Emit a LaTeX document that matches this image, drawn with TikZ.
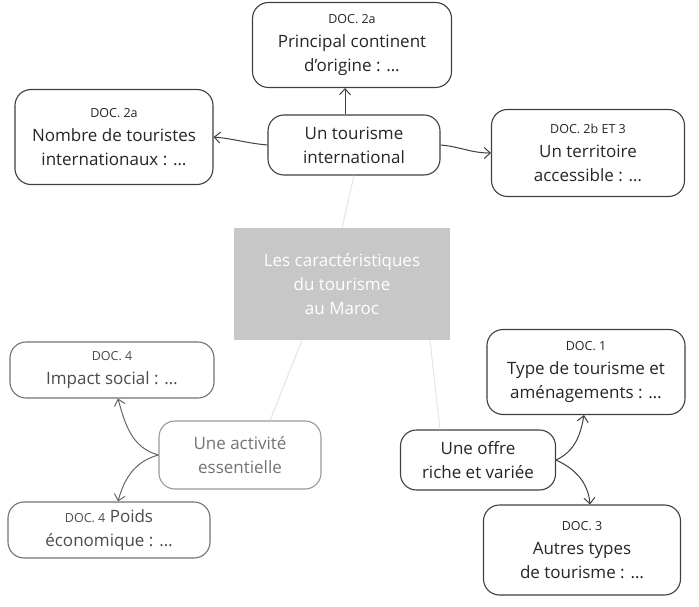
\documentclass[tikz,border=0pt]{standalone}
\usepackage{fontspec}
\setmainfont{Open Sans}
\usetikzlibrary{arrows.meta}
\newcommand{\dctag}[1]{{\fontsize{12.5}{15}\selectfont #1}}
\begin{document}
\begin{tikzpicture}[x=1pt,y=-1pt,
  box/.style={draw=black!75, line width=1.1pt, rounded corners=16pt, align=center,
    font=\fontsize{17}{24}\selectfont, inner sep=2pt, text=black!85},
  softbox/.style={box, draw=black!55, text=black!70},
  arr/.style={draw=black!75, line width=1pt, -{Straight Barb[length=6pt,width=11pt]}},
  faint/.style={draw=black!10, line width=1pt}]
\useasboundingbox (0,0) rectangle (699,607);
\fill[white] (0,0) rectangle (699,607);

\node[box, minimum width=199pt, minimum height=85pt] (top) at (352,45)
  {\dctag{DOC.~2a}\\Principal continent\\d’origine : …};
\node[box, minimum width=198pt, minimum height=95pt] (left) at (114,137)
  {\dctag{DOC.~2a}\\Nombre de touristes\\internationaux : …};
\node[box, minimum width=172pt, minimum height=60pt] (intl) at (354,145)
  {Un tourisme\\international};
\node[box, minimum width=193pt, minimum height=87pt] (right) at (588,153)
  {\dctag{DOC.~2b ET~3}\\Un territoire\\accessible : …};

\node[fill=black!22, minimum width=216pt, minimum height=112pt, text=white,
  align=center, font=\fontsize{17}{24}\selectfont] (grey) at (342,284)
  {Les caractéristiques\\du tourisme\\au Maroc};

\node[softbox, minimum width=204pt, minimum height=56pt] (imp) at (112,370)
  {\dctag{DOC.~4}\\Impact social : …};
\node[softbox, draw=black!40, text=black!55, minimum width=162pt, minimum height=68pt] (act) at (240,455)
  {Une activité\\essentielle};
\node[softbox, minimum width=202pt, minimum height=56pt] (poids) at (109,530)
  {\dctag{DOC.~4} Poids\\économique : …};

\node[box, minimum width=198pt, minimum height=85pt] (doc1) at (586,372)
  {\dctag{DOC.~1}\\Type de tourisme et\\aménagements : …};
\node[box, minimum width=155pt, minimum height=60pt] (offre) at (478,460)
  {Une offre\\riche et variée};
\node[box, minimum width=197pt, minimum height=90pt] (doc3) at (582,550)
  {\dctag{DOC.~3}\\Autres types\\de tourisme : …};

% faint links to the central box
\draw[faint] (intl.south) -- (grey.north);
\draw[faint] ([xshift=-40pt]grey.south) -- ([xshift=30pt]act.north);
\draw[faint] ([xshift=88pt]grey.south) -- ([xshift=-38pt]offre.north);

% arrows
\draw[arr] ([xshift=-9pt]intl.north) -- ([xshift=-9pt]intl.north |- top.south);
\draw[arr] (intl.west) to[out=175,in=-5] (left.east);
\draw[arr] (intl.east) to[out=-5,in=180] (right.west);

\draw[arr, draw=black!60] (act.west) to[out=165,in=-75] ([xshift=6pt]imp.south);
\draw[arr, draw=black!60] (act.west) to[out=195,in=75] ([xshift=9pt]poids.north);

\draw[arr] (offre.east) to[out=25,in=-100] ([xshift=-2pt]doc1.south);
\draw[arr] (offre.east) to[out=-25,in=95] ([xshift=8pt]doc3.north);
\end{tikzpicture}
\end{document}
